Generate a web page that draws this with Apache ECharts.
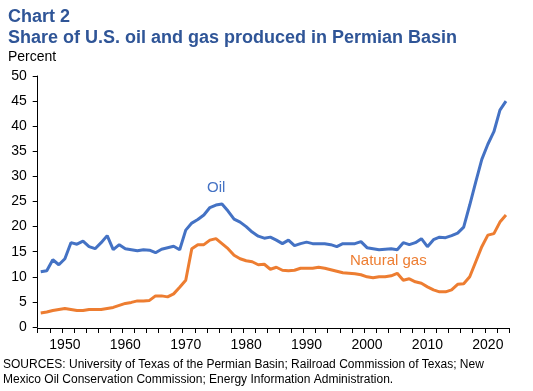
<!DOCTYPE html>
<html>
<head>
<meta charset="utf-8">
<script src="https://cdn.jsdelivr.net/npm/echarts@6/dist/echarts.min.js"></script>
<style>
html,body{margin:0;padding:0;background:#fff;}
#chart{width:533px;height:391px;}
</style>
</head>
<body>
<div id="chart"></div>
<script>
const years = [1946,1947,1948,1949,1950,1951,1952,1953,1954,1955,1956,1957,1958,1959,
  1960,1961,1962,1963,1964,1965,1966,1967,1968,1969,1970,1971,1972,1973,1974,1975,1976,1977,1978,1979,
  1980,1981,1982,1983,1984,1985,1986,1987,1988,1989,1990,1991,1992,1993,1994,1995,1996,1997,1998,1999,
  2000,2001,2002,2003,2004,2005,2006,2007,2008,2009,2010,2011,2012,2013,2014,2015,2016,2017,2018,2019,
  2020,2021,2022,2023];
const oil = [11.0,11.2,13.4,12.4,13.6,16.8,16.5,17.1,16.0,15.6,16.8,18.2,15.4,16.4,15.6,15.4,15.2,15.4,15.3,14.8,15.5,15.8,16.1,
  15.4,19.3,20.7,21.4,22.3,23.8,24.3,24.5,23.1,21.5,20.9,20.0,18.9,18.1,17.7,17.9,17.3,16.6,17.3,16.2,16.6,16.9,
  16.6,16.6,16.6,16.4,16.0,16.6,16.6,16.6,17.0,15.8,15.6,15.4,15.5,15.6,15.4,16.8,16.4,16.8,17.6,16.0,17.4,17.9,
  17.8,18.2,18.7,19.9,24.3,28.9,33.4,36.4,38.9,43.2,45.0];
const gas = [2.8,3.0,3.3,3.5,3.7,3.5,3.3,3.3,3.5,3.5,3.5,3.7,3.9,4.3,4.7,4.9,5.2,5.2,5.3,6.2,6.2,6.0,6.6,
  7.9,9.3,15.6,16.4,16.4,17.3,17.6,16.6,15.6,14.3,13.6,13.2,13.0,12.4,12.5,11.5,11.9,11.3,11.2,11.3,11.7,11.7,
  11.7,11.9,11.7,11.4,11.1,10.8,10.7,10.6,10.4,10.0,9.8,10.0,10.0,10.2,10.7,9.3,9.6,9.0,8.7,8.0,7.4,7.0,
  7.0,7.4,8.5,8.6,10.0,13.0,16.0,18.3,18.6,20.9,22.3];
const yTicks = [0,5,10,15,20,25,30,35,40,45,50];
const titleLines = ["Chart 2", "Share of U.S. oil and gas produced in Permian Basin"];
const unitLabel = "Percent";
const sourceLines = ["SOURCES: University of Texas of the Permian Basin; Railroad Commission of Texas; New",
  "Mexico Oil Conservation Commission; Energy Information Administration."];

const FONT = "'Liberation Sans', Arial, sans-serif";
const BLUE = '#4472C4', ORANGE = '#ED7D31', TITLE = '#2F5597';

const chart = echarts.init(document.getElementById('chart'), null, {renderer: 'canvas'});
chart.setOption({
  animation: false,
  backgroundColor: '#fff',
  grid: {left: 37.7, right: 24, top: 76, bottom: 64, containLabel: false},
  xAxis: [{
    type: 'category', data: years, boundaryGap: true, position: 'bottom',
    axisLine: {show: false, onZero: false},
    axisTick: {show: false},
    axisLabel: {interval: (i, v) => Number(v) % 10 === 0, color: '#000', fontSize: 14, fontFamily: FONT, margin: 11},
    splitLine: {show: false}
  }, {
    // axis line + tick marks every second year boundary (index space of the category axis)
    type: 'value', position: 'bottom', offset: 1, min: 0, max: years.length, interval: 2,
    axisLine: {show: true, onZero: false, lineStyle: {color: '#000', width: 1}},
    axisTick: {show: true, length: 5, inside: false, lineStyle: {color: '#000', width: 1}},
    axisLabel: {show: false},
    splitLine: {show: false}
  }],
  yAxis: {
    type: 'value', min: yTicks[0], max: yTicks[yTicks.length-1], interval: yTicks[1]-yTicks[0],
    axisLine: {show: true, lineStyle: {color: '#000', width: 1}},
    axisTick: {show: true, length: 5, lineStyle: {color: '#000'}},
    axisLabel: {color: '#000', fontSize: 14, fontFamily: FONT, margin: 11},
    splitLine: {show: false}
  },
  series: [
    {name: 'Oil', type: 'line', xAxisIndex: 0, data: oil, symbol: 'none', lineStyle: {color: BLUE, width: 3}, itemStyle: {color: BLUE}},
    {name: 'Natural gas', type: 'line', xAxisIndex: 0, data: gas, symbol: 'none', lineStyle: {color: ORANGE, width: 3}, itemStyle: {color: ORANGE}}
  ],
  graphic: [
    {type: 'text', left: 8, top: 8, style: {text: titleLines[0], font: "bold 18px " + FONT, fill: TITLE}},
    {type: 'text', left: 8, top: 29, style: {text: titleLines[1], font: "bold 18px " + FONT, fill: TITLE}},
    {type: 'text', left: 8, top: 50, style: {text: unitLabel, font: "14px " + FONT, fill: '#000'}},
    {type: 'text', left: 3, top: 359, style: {text: sourceLines[0], font: "12px " + FONT, fill: '#000'}},
    {type: 'text', left: 3, top: 374, style: {text: sourceLines[1], font: "12px " + FONT, fill: '#000'}},
    {type: 'text', left: 207, top: 180, style: {text: 'Oil', font: "15px " + FONT, fill: BLUE}},
    {type: 'text', left: 350, top: 253, style: {text: 'Natural gas', font: "15px " + FONT, fill: ORANGE}}
  ]
});
</script>
</body>
</html>
